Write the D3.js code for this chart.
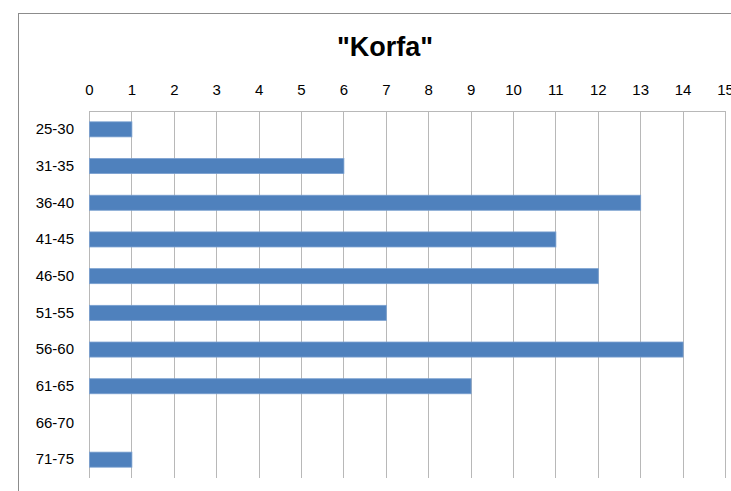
<!DOCTYPE html>
<html>
<head>
<meta charset="utf-8">
<script src="https://cdn.jsdelivr.net/npm/d3@7"></script>
<style>
  body { margin: 0; background: #fff; }
  svg text { font-family: "Liberation Sans", Arial, sans-serif; fill: #000; }
</style>
</head>
<body>
<div id="chart"></div>
<script>
// age groups and counts
let categories = ['25-30', '31-35', '36-40', '41-45', '46-50', '51-55', '56-60', '61-65', '66-70', '71-75'];
let values = [1, 6, 13, 11, 12, 7, 14, 9, 0, 1];
let ticks = [0, 1, 2, 3, 4, 5, 6, 7, 8, 9, 10, 11, 12, 13, 14, 15];
let title = '"Korfa"';

let width = 731, height = 491;
let svg = d3.select('#chart').append('svg').attr('width', width).attr('height', height);

// chart frame, runs off the right and bottom edges
svg.append('rect')
  .attr('x', 18.5).attr('y', 13.5)
  .attr('width', 760).attr('height', 520)
  .attr('fill', 'none').attr('stroke', '#8c8c8c').attr('stroke-width', 1);

let plot = { left: 89, right: 725, top: 111, bottom: 478 };

let x = d3.scaleLinear().domain([0, 15]).range([plot.left, plot.right]);
let y = d3.scaleBand().domain(categories).range([plot.top, plot.bottom]).paddingInner(0.59).paddingOuter(0.295);

// vertical gridlines
svg.append('g').selectAll('line').data(ticks).enter().append('line')
  .attr('x1', d => Math.round(x(d)) + 0.5).attr('x2', d => Math.round(x(d)) + 0.5)
  .attr('y1', plot.top).attr('y2', plot.bottom)
  .attr('stroke', '#b8b8b8').attr('stroke-width', 1);

// top axis line
svg.append('line')
  .attr('x1', plot.left).attr('x2', plot.right + 1)
  .attr('y1', plot.top + 0.5).attr('y2', plot.top + 0.5)
  .attr('stroke', '#b8b8b8');

// bars
svg.append('g').selectAll('rect').data(values).enter().append('rect')
  .attr('x', x(0) + 0.5)
  .attr('y', (d, i) => y(categories[i]))
  .attr('width', d => Math.max(0, x(d) - x(0)))
  .attr('height', y.bandwidth())
  .attr('fill', '#4f81bd')
  .attr('stroke', d => d > 0 ? '#7aa0d0' : 'none')
  .attr('stroke-width', 0.8);

// top axis labels
let xAxis = svg.append('g').attr('transform', 'translate(0,' + plot.top + ')')
  .call(d3.axisTop(x).tickValues(ticks).tickSize(0).tickPadding(16));
xAxis.select('.domain').remove();
xAxis.selectAll('text').attr('font-size', 15).style('font-family', null);

// category labels
let yAxis = svg.append('g').attr('transform', 'translate(' + plot.left + ',0)')
  .call(d3.axisLeft(y).tickSize(0).tickPadding(15));
yAxis.select('.domain').remove();
yAxis.selectAll('text').attr('font-size', 15).style('font-family', null);

// title
svg.append('text')
  .attr('x', 385).attr('y', 56)
  .attr('text-anchor', 'middle')
  .attr('font-size', 27).attr('font-weight', 'bold')
  .text(title);
</script>
</body>
</html>
